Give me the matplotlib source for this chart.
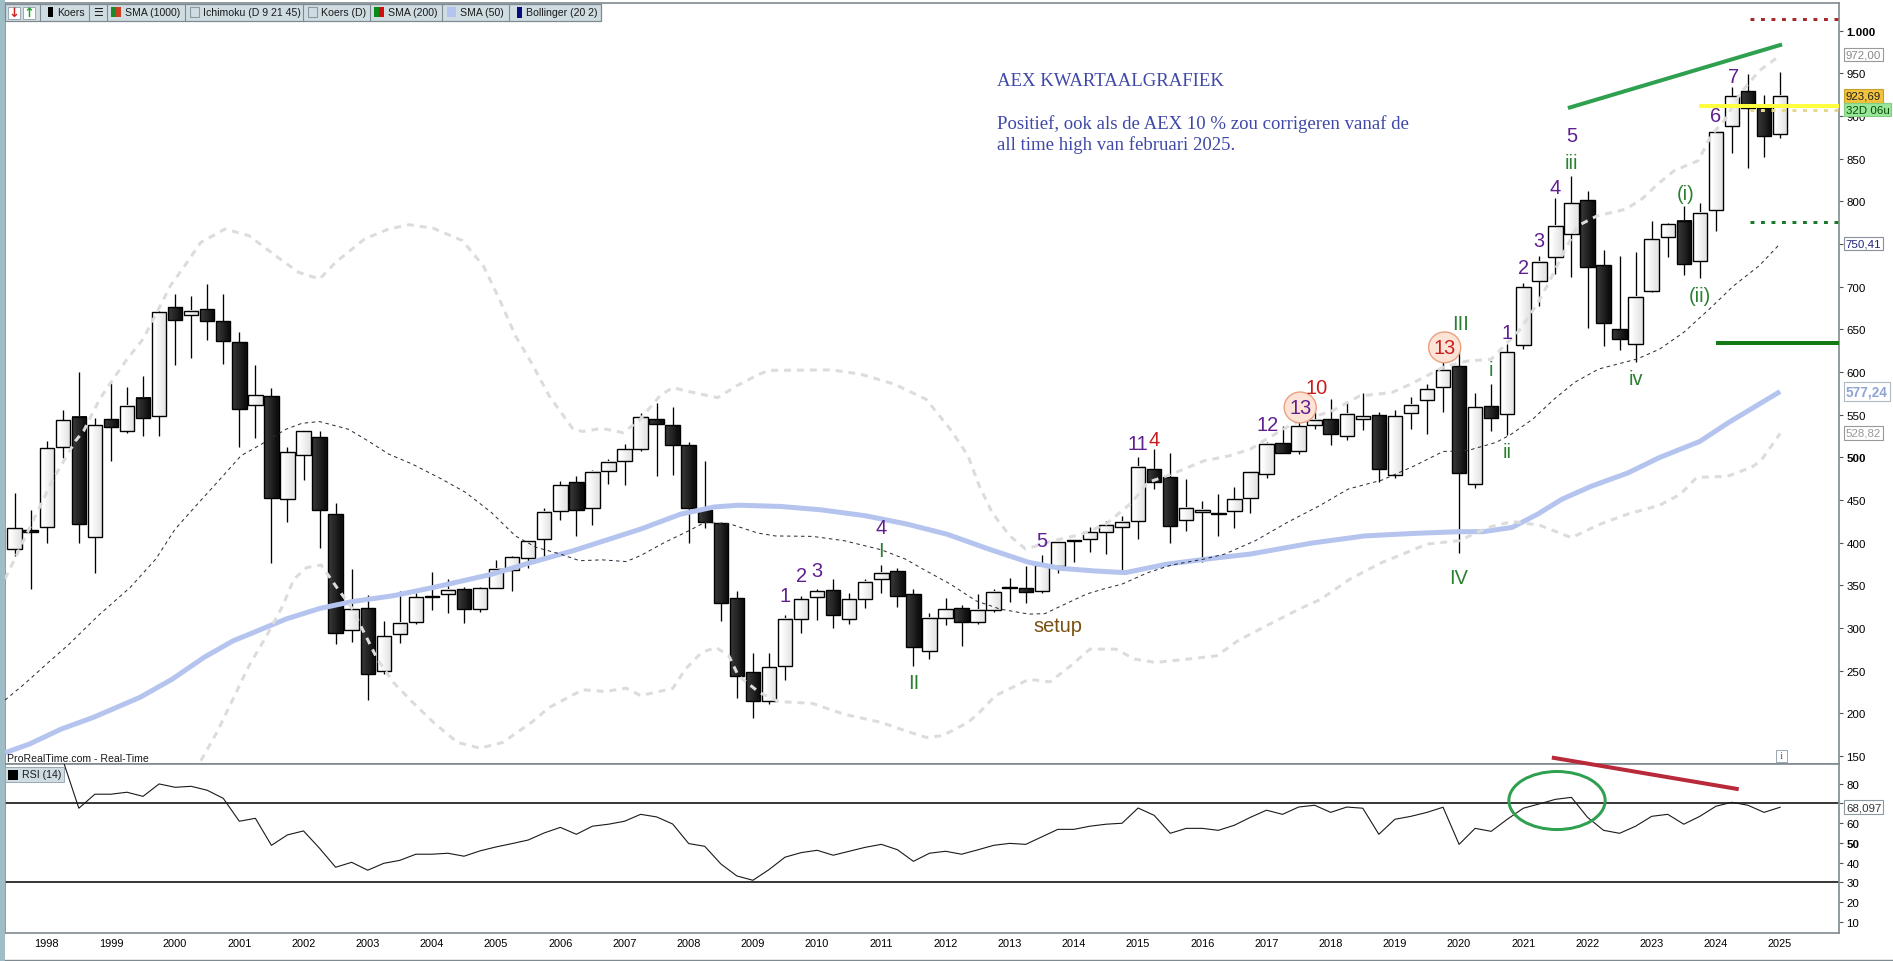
import numpy as np
import matplotlib
matplotlib.use("Agg")
import matplotlib.pyplot as plt
from matplotlib.patches import Ellipse, Rectangle

plt.rcParams['font.family'] = ['Liberation Sans', 'DejaVu Sans']

W, H = 1893, 962

# quarterly candles, first one is 1997 Q3
opens = [393, 414.5, 419, 511.8, 547.3, 406.3, 545, 530.5, 570, 549, 676, 666.6, 674, 660, 635, 562, 571.5, 451.2, 502.4, 523.9,
         433.6, 297.3, 323.5, 250, 292.6, 307.5, 337.6, 339.5, 345.7, 322.7, 346.5, 368.4, 381.7, 403.9, 436.8, 470.7, 440.3, 483.6, 496.1, 509.4,
         545, 537.9, 514.5, 438.3, 423.1, 335.2, 248.5, 214.9, 255.1, 311, 336, 344.6, 311, 333.6, 357, 366.4, 339.5, 272.7, 311.4, 323.1,
         306.7, 320.7, 347.8, 346.5, 343.8, 373.1, 402.9, 403.9, 412.1, 418, 425, 486.4, 477, 426.2, 435.6, 434.4, 436.8, 452, 480.1, 516.8,
         507.9, 537.5, 545, 524.6, 544.6, 549.7, 478.9, 551.6, 567.6, 582, 607, 468.4, 559.8, 550.4, 631.4, 706.3, 734.4, 761.4, 801.6, 725.4,
         650.4, 632.5, 695.4, 758, 777, 729.7, 789.5, 888, 929.3, 909.4, 878.5]
highs = [458, 438, 519, 555.5, 600, 546, 587, 583, 595, 671, 691.5, 689, 703, 691.5, 646.5, 608, 581, 511.8, 531, 530.5,
         446.5, 369.2, 339, 307.9, 343, 341, 365.7, 357, 347.7, 347.7, 379.3, 384, 402.4, 440.7, 472.7, 477.8, 485.2, 497.7, 515.7, 552,
         563.7, 558.6, 518.4, 495.7, 424, 343.4, 270.7, 270.7, 315.3, 337.5, 345.7, 357.5, 341, 357.5, 373.9, 370.4, 345.4, 317.6, 335.6, 327,
         339.9, 345.4, 358.6, 372.7, 385.6, 400.4, 403.5, 418.4, 425.4, 430.9, 500, 509.8, 504.7, 474.7, 448.5, 456.7, 464.9, 483, 517.6, 536.4,
         545, 552.8, 568, 565.3, 576, 552.8, 555.5, 571, 586, 611.5, 623, 576, 586, 632.9, 703.9, 736, 804, 829.8, 812.2, 743,
         736, 740.8, 777, 775, 794.6, 798, 881.5, 934.5, 948.8, 924.6, 951.6]
lows = [384, 346, 400, 499, 400, 365, 496, 529, 525.4, 525.4, 608.7, 617, 638, 609.8, 511.8, 523, 376.6, 424.7, 473.9, 394.2,
        281.7, 284, 216, 246, 282.8, 305, 321.5, 318, 306.3, 319.2, 346.5, 343.8, 371, 382.9, 427, 408.2, 420.7, 469.2, 468, 507.8,
        478.6, 479.3, 399.7, 417.6, 308.6, 218, 194.2, 211.4, 239.5, 294.6, 309.8, 300.4, 305, 323.5, 341, 325, 255.1, 264.1, 304, 279.3,
        305, 318.4, 330.9, 329.7, 341.4, 364.9, 377.8, 389.5, 387.1, 367.2, 404.3, 463.3, 400, 413.7, 377, 408.2, 417.6, 434.8, 475.4, 505.5,
        504, 533.2, 514.9, 520.8, 532.5, 470.7, 475.4, 533.2, 527.8, 552.8, 388.3, 463.7, 531.3, 526.6, 627, 677, 715, 711, 652, 630.8,
        626, 611.5, 693.4, 734.4, 714, 710.6, 765.7, 857, 839.6, 852.4, 874.2]
closes = [417, 413, 510.6, 543.4, 421.9, 537.5, 536, 560, 546.5, 670, 661.4, 671.3, 660, 636.8, 557, 572.7, 452.8, 505.9, 530.5, 438.7,
          294.6, 321.9, 246.5, 290.3, 305.5, 336, 336.8, 344.2, 322.7, 346.9, 368.8, 382.9, 401.6, 435.6, 467.2, 438.7, 482.5, 494.2, 509.4, 546.9,
          539.5, 514.9, 441, 424.7, 329.7, 244.2, 214.9, 253.9, 310.2, 333.6, 343, 315.7, 333.6, 353.6, 364.1, 338, 278.2, 311.4, 321.9, 306.7,
          321.5, 341.8, 346.8, 342.6, 373.5, 400.4, 401.9, 412.1, 420.4, 423.9, 488.3, 471.5, 420, 440.3, 438.7, 433.6, 450.8, 482.5, 515.3, 505.5,
          536.4, 543.4, 527.8, 550.4, 548, 486.8, 548, 561, 580, 603, 482, 558.6, 546.5, 623, 699.3, 728.6, 770.8, 797.7, 723.5, 657.8,
          639, 687.6, 755.6, 773, 726.6, 786, 881, 923, 909.4, 877, 923.7]

bb_upper_x = [-0.6, 0.1, 2.4, 3.8, 4.3, 5.3, 6, 7, 8, 8.65, 9.7, 10.6, 11.6, 13.1, 14.6, 16.4, 17.7, 19, 20, 21.8, 23.3, 24.6, 26.1, 27.9, 29.2, 30.2, 31.2, 32.2, 33.3, 34.8, 35.4, 36.6, 37.9, 38.9,
              40.2, 41, 41.8, 43.8, 45, 46.4, 47, 50.9, 52.7, 54.8, 56.8, 58.3, 59.4, 60.1, 60.9, 62, 63, 64.7, 66.5, 68, 69.6, 70.6, 72.1, 74.1, 75.7, 77, 78, 79.6, 82.1, 83.8, 85.8, 87, 89, 90.5, 92, 93.8, 94.8, 95.6, 96.4, 97.4, 98.6, 100.4, 101.4, 102.4, 103.4, 104.9, 105.7, 106.6, 107.5, 108.7, 110]
bb_upper = [357.5, 384.8, 474.7, 519.6, 531, 568.4, 588, 615, 638.7, 662, 701, 724.6, 752, 767.6, 759.8, 734.4, 716.8, 709, 728.6, 755.9, 767.6, 772.7, 768.4, 754, 724.6, 685.6, 642.6, 611, 572.3, 533, 530.5, 534, 529, 543,
            572, 582, 578, 570, 584, 597.6, 602, 602.6, 597.6, 586, 568, 533, 502, 466.8, 435.6, 408, 392.6, 402.4, 410, 421.9, 447, 470.7, 480.5, 496, 502, 509.8, 521.5, 539, 554.7, 572, 576, 586, 605.6, 613, 615, 650, 678, 705, 736, 771.5, 783, 791, 803, 820.6, 836, 847.8, 877, 896.6, 926, 953, 971]
bb_lower_x = [11.6, 12.6, 13.6, 14.6, 15.7, 16.7, 17.4, 18.2, 19.1, 20, 21, 22.6, 23.6, 24.8, 26.1, 27.6, 29, 30.4, 32.2, 33.3, 35.4, 36.8, 38.1, 39,
              41, 41.8, 42.8, 43.7, 44.5, 45.1, 46.4, 47.6, 49.7, 51.7, 54, 55.5, 56.8, 57.8, 59.4, 60.1, 61.1, 63.2, 64.5, 65.8, 67, 68.6, 69.8, 71.1, 73.1, 74.9, 76.2, 77.2, 78.4, 80, 81.4, 83.2, 85.2, 86.5, 88, 90, 91.8, 93.3, 95, 97, 98.8, 100.5, 102.5, 103.8, 104.8, 106.7, 108.2, 108.8, 110]
bb_lower = [144.6, 177.8, 216.8, 255.9, 291, 326, 357.5, 371, 374, 349.6, 324, 263.7, 236.4, 213, 189.5, 166, 159.4, 166, 189.5, 207, 227.8, 225.8, 229.7, 221,
            229.3, 252, 271.5, 277.4, 267.6, 244, 224.7, 214, 211.8, 199, 189.5, 179.7, 171.9, 173.9, 189.5, 201, 220.8, 240, 237, 255.9, 275.4, 275.4, 263.7, 259.8, 263.7, 267.6, 285, 295, 306.7, 322, 334, 357.5, 377, 386.8, 398.5, 402.4, 418, 425, 420.7, 406, 421.9, 433.6, 444, 457, 476.6, 477.8, 488.3, 496, 528]
bb_mid_x = [-0.6, 0.6, 2.1, 3.4, 5.2, 7.2, 8.8, 10, 11.3, 12.9, 14.1, 15.4, 16.9, 17.9, 19, 20.8, 22, 23.3, 24.8, 26.6, 28.1, 29.7, 31.2, 32.5, 34, 35.2, 36.6, 38.1, 39,
            40.5, 42, 43, 44.6, 46.3, 47.4, 49.7, 51.7, 54, 55.5, 56.8, 58.3, 59.9, 61.4, 63.2, 64.2, 65.2, 66.8, 67.8, 69, 70.6, 72.1, 74.1, 75.4, 77.3, 79.3, 81.3, 83.1, 85.2, 87.2, 89, 90.5, 92.3, 93.2, 94.6, 95.9, 97.2, 98.7, 101.1, 102.5, 104, 105.6, 107.1, 108.7, 110]
bb_mid = [215.7, 234.4, 259.8, 281.3, 314.5, 347.7, 381, 416, 443.4, 476.6, 502, 515.7, 533, 540, 542, 533, 519.6, 504, 492, 474.7, 459, 435.6, 408, 394.6, 386.8, 379, 380, 378, 385,
          400.4, 414, 423.9, 421.9, 411.4, 408, 407.5, 402.4, 391.8, 380.9, 367, 351.6, 332, 322.3, 316.4, 317, 326, 340, 345.7, 351.6, 365, 374, 380.9, 386.8, 402.4, 423.9, 443.4, 463, 473.5, 490, 507, 507.9, 517.6, 526.6, 545, 568, 588, 603.6, 615.4, 627, 646.6, 674, 701, 724.7, 750.4]
sma50_x = [-0.6, 0.9, 2.9, 4.9, 7.8, 9.8, 11.8, 13.6, 14.9, 16.9, 19, 21, 23.6, 26.1, 29.7, 32.2, 34.8, 39,
           41.5, 43.6, 45.1, 47.7, 50.2, 53, 55.6, 58.1, 60.7, 63.2, 65.2, 67.3, 69.2, 71.8, 74.6, 77, 80.8, 84.1, 87.2, 90, 91.5, 93.3, 94.9, 96.4, 98.2, 100.5, 102.5, 105, 106.8, 110]
sma50 = [154, 164, 181.7, 195.4, 218.8, 240, 265.7, 285, 295, 310.6, 323, 331, 338, 347.7, 363, 377, 390.7, 416,
         433.6, 442, 444, 442.6, 438.7, 431.7, 421.9, 410, 392.6, 377, 370, 367, 365, 375, 381.7, 386.8, 399.6, 408, 411, 413, 413, 418, 433.6, 451, 466, 481.7, 500, 518.8, 541, 577.2]

rsi_start = 3
rsi = [92, 67.5, 74.6, 74.6, 75.6, 73.5, 79.8, 78.1, 78.6, 76.6, 72.5, 60.9, 62.4, 48.7, 54, 56, 47.2, 37.6, 40.1, 36.1,
       39.6, 41.1, 44.2, 44.2, 44.7, 43.2, 45.9, 47.9, 49.6, 51.4, 55, 57.8, 54.3, 58.4, 59.4, 60.9, 64.4, 63.1, 59.5, 49.6,
       48.2, 39.3, 33.2, 31, 36.4, 42.7, 45, 46.2, 43.7, 45.7, 47.7, 49.2, 46.5, 40.6, 44.7, 45.7, 44.2, 46.4, 48.7, 49.7,
       49.2, 53, 56.8, 56.8, 58.4, 59.4, 59.9, 67.6, 63.9, 54.8, 57.3, 57.3, 56.3, 58.9, 62.9, 66.5, 64.4, 68.1, 69, 65.4,
       68.1, 67.5, 54.3, 61.9, 63.4, 65.4, 68, 49.2, 57.3, 55.8, 61.9, 67.5, 69.7, 72, 73, 62.9, 56.3, 54.8, 58.4, 63.4,
       64.4, 59.4, 63.4, 68.5, 70.5, 69, 65.4, 68]

years = list(range(1998, 2026))
price_ticks = [150, 200, 250, 300, 350, 400, 450, 500, 550, 600, 650, 700, 750, 800, 850, 900, 950, 1000]
rsi_ticks = [10, 20, 30, 40, 50, 60, 70, 80]

# wave counts on the chart: (quarter, price, text, colour)
PURPLE, GREEN, RED = '#5f1f8f', '#2a8030', '#c81e1e'
wave_labels = [(48, 338.7, '1', PURPLE), (49, 361.4, '2', PURPLE), (50, 367, '3', PURPLE), (54, 418, '4', PURPLE), (54, 390.7, 'I', GREEN),
               (56, 236.4, 'II', GREEN), (64, 402.4, '5', PURPLE), (65, 303.6, 'setup', '#7a5010'), (70, 516.4, '11', PURPLE), (71, 521.5, '4', RED),
               (78.1, 538.3, '12', PURPLE), (81.1, 582, '10', RED), (90.06, 656.4, 'III', GREEN), (93, 646.5, '1', PURPLE), (92, 603.6, 'i', GREEN),
               (93, 507, 'ii', GREEN), (90, 359.4, 'IV', GREEN), (94, 722, '2', PURPLE), (95, 754, '3', PURPLE), (96, 816.5, '4', PURPLE),
               (97, 877, '5', PURPLE), (97, 845.7, 'iii', GREEN), (104.1, 809.8, '(i)', GREEN), (105, 689.6, '(ii)', GREEN), (101, 593, 'iv', GREEN),
               (106, 901, '6', PURPLE), (107.1, 946.5, '7', PURPLE)]
circled = [(80.1, 558.6, PURPLE), (89.1, 629, RED)]


def px(n):
    return n * 0.72


def chart_axes(top, bottom):
    left, right = 5, 1839
    return fig.add_axes([left / W, 1 - bottom / H, (right - left) / W, (bottom - top) / H])


fig = plt.figure(figsize=(W / 100, H / 100), dpi=100, facecolor='white')
ax = chart_axes(3.7, 765)
ax2 = chart_axes(765, 934)

x = np.arange(len(opens))
for i in x:
    up = closes[i] >= opens[i]
    ax.vlines(i, lows[i], highs[i], color='black', lw=0.95, zorder=2)
    low, high = min(opens[i], closes[i]), max(opens[i], closes[i])
    shade = [[1.0, 0.95, 0.9]] if up else [[0.2, 0.14, 0.06]]
    ax.imshow(shade, extent=[i - 0.45, i + 0.45, low, high], aspect='auto', cmap='gray', vmin=0, vmax=1, zorder=3, interpolation='bilinear')
    ax.add_patch(Rectangle((i - 0.45, low), 0.9, high - low, fill=False, ec='black', lw=1.0, zorder=3))

ax.plot(sma50_x, sma50, color='#b4c4ee', lw=px(5), zorder=4, solid_capstyle='butt')
ax.plot(bb_upper_x, bb_upper, color='#dcdcdc', lw=px(3), ls=(0, (2.3, 2)), zorder=5)
ax.plot(bb_lower_x, bb_lower, color='#dcdcdc', lw=px(3), ls=(0, (2.3, 2)), zorder=5)
ax.plot(bb_mid_x, bb_mid, color='#2a2a3a', lw=0.72, ls=(0, (3.5, 3.5)), zorder=5)

# hand drawn lines
ax.plot([96.9, 110], [910, 983.2], color='#2fa050', lw=px(4), zorder=6)
ax.plot([108.1, 113.7], [1013.3, 1013.3], color='#a52a2a', lw=px(3), ls=(0, (1.3, 2.2)), zorder=6)
ax.plot([108.1, 113.7], [775.4, 775.4], color='#1a7a2a', lw=px(3), ls=(0, (1.3, 2.2)), zorder=6)
ax.plot([108.1, 113.7], [907, 907], color='#e4d890', lw=px(3), ls=(0, (1.3, 2.2)), zorder=6)
ax.plot([105.06, 113.7], [911.4, 911.4], color='#ffff40', lw=px(4), zorder=6)
ax.plot([106.1, 113.7], [633.7, 633.7], color='#157a15', lw=px(4), zorder=6)

for qx, qy, txt, col in wave_labels:
    ax.text(qx, qy, txt, color=col, fontsize=px(20), ha='center', va='center', zorder=8)
for qx, qy, col in circled:
    ax.add_patch(Ellipse((qx, qy), 2.0, 36, fc='#fde3d6', ec='#e8a080', lw=1, zorder=7))
    ax.text(qx, qy, '13', color=col, fontsize=px(20), ha='center', va='center', zorder=8)

note = dict(family=['Liberation Serif', 'DejaVu Serif'], color='#3f48a8', fontsize=px(18.8), va='center', zorder=8)
fig.text(997 / W, 1 - 82 / H, 'AEX KWARTAALGRAFIEK', **note)
fig.text(997 / W, 1 - 124 / H, 'Positief, ook als de AEX 10 % zou corrigeren vanaf de', **note)
fig.text(997 / W, 1 - 145 / H, 'all time high van februari 2025.', **note)

ax.set_xlim(-0.6, 113.67)
ax.set_ylim(140.8, 1032.8)
ax.yaxis.tick_right()
ax.set_yticks(price_ticks)
# 750 sits completely under its value box in the reference
ax.set_yticklabels(['' if t == 750 else f'{t:,}'.replace(',', '.') for t in price_ticks])
ax.set_xticks([])
ax.tick_params(axis='y', length=3, width=0.8, color='#555555', labelsize=px(11.5), pad=2.5)
for lab, t in zip(ax.get_yticklabels(), price_ticks):
    if t in (1000, 500):
        lab.set_fontweight('bold')

# rsi panel
rsi_x = np.arange(rsi_start, rsi_start + len(rsi))
ax2.plot(rsi_x, rsi, color='#1a1a1a', lw=0.8, zorder=3)
ax2.axhline(70, color='black', lw=1.1, zorder=2)
ax2.axhline(30, color='black', lw=1.1, zorder=2)
ax2.add_patch(Ellipse((96.1, 71.4), 6.0, 29.4, fill=False, ec='#2fa050', lw=px(3), zorder=5))
ax2.plot([95.9, 107.3], [93, 77.3], color='#b8293a', lw=px(4), zorder=6, clip_on=False)
ax2.set_xlim(-0.6, 113.67)
ax2.set_ylim(4.3, 89.9)
ax2.yaxis.tick_right()
ax2.set_yticks(rsi_ticks)
ax2.set_xticks([2 + 4 * k for k in range(len(years))])
ax2.set_xticklabels([str(y) for y in years])
ax2.tick_params(axis='y', length=3, width=0.8, color='#555555', labelsize=px(11.5), pad=2.5)
ax2.tick_params(axis='x', length=0, labelsize=px(11), pad=3.5)
ax2.get_yticklabels()[rsi_ticks.index(50)].set_fontweight('bold')

for a in (ax, ax2):
    for s in a.spines.values():
        s.set_color('#7f8a90')
        s.set_linewidth(1.2)

# value boxes on the right axis
boxes = [(972.0, '972,00', '#888888', 'white', '#999999', ax), (923.69, '923,69', '#222222', '#f2c23c', '#c8a030', ax),
         (907.5, '32D 06u', '#0a4a0a', '#98e698', '#80d080', ax), (750.41, '750,41', '#22227a', 'white', '#8890a0', ax),
         (577.24, '577,24', '#8fa4d4', 'white', '#b0b8c0', ax), (528.82, '528,82', '#999999', 'white', '#999999', ax),
         (68.097, '68,097', '#333333', 'white', '#8a9aa0', ax2)]
for val, txt, tc, fc, ec, a in boxes:
    bold = txt == '577,24'
    a.annotate(txt, xy=(1, val), xycoords=('axes fraction', 'data'), xytext=(5, 0), textcoords='offset points', ha='left', va='center',
               fontsize=px(13.5) if bold else px(11.5), fontweight='bold' if bold else 'normal', color=tc, zorder=10, annotation_clip=False,
               bbox=dict(boxstyle='square,pad=0.15', fc=fc, ec=ec, lw=0.8))

# window chrome, in figure pixels
ch = fig.add_axes([0, 0, 1, 1], facecolor='none')
ch.set_xlim(0, W)
ch.set_ylim(H, 0)
ch.axis('off')
BAR = '#cfdde3'
EDGE = '#7f8a90'
ch.add_patch(Rectangle((0, 0), 4.5, H, fc='#9fbdc6', ec='none'))
ch.plot([5, W], [961, 961], color=EDGE, lw=1.0)
ch.add_patch(Rectangle((5, 4.5), 596, 17, fc=BAR, ec=EDGE, lw=0.9))
for sep in [39.6, 88.6, 107.3, 185.3, 303.3, 370.2, 442, 508.6]:
    ch.plot([sep, sep], [4.5, 21.5], color=EDGE, lw=0.8)
bar_font = px(10.5)
for tx, txt in [(57, 'Koers'), (125, 'SMA (1000)'), (203, 'Ichimoku (D 9 21 45)'), (321, 'Koers (D)'), (388, 'SMA (200)'), (460, 'SMA (50)'), (526, 'Bollinger (20 2)')]:
    ch.text(tx, 13, txt, fontsize=bar_font, va='center', ha='left', color='#1a1a1a')
ch.add_patch(Rectangle((48, 8), 5, 10, fc='black', ec='none'))
ch.add_patch(Rectangle((111, 8), 5, 10, fc='#1a8a2a', ec='none'))
ch.add_patch(Rectangle((116, 8), 5, 10, fc='#d04020', ec='none'))
ch.add_patch(Rectangle((189.5, 8), 9, 10, fc=BAR, ec='#8a9aa0', lw=0.8))
ch.add_patch(Rectangle((307.5, 8), 9, 10, fc=BAR, ec='#8a9aa0', lw=0.8))
ch.add_patch(Rectangle((374, 8), 5, 10, fc='#0a8a1a', ec='none'))
ch.add_patch(Rectangle((379, 8), 5, 10, fc='#d01010', ec='none'))
ch.add_patch(Rectangle((447, 8), 9, 10, fc='#b4c4ee', ec='none'))
ch.add_patch(Rectangle((517, 8), 5, 11, fc='#0a0a80', ec='none'))
ch.add_patch(Rectangle((8, 7.5), 12, 12, fc='white', ec='#9aa8b0', lw=0.7))
ch.add_patch(Rectangle((23, 7.5), 12, 12, fc='white', ec='#9aa8b0', lw=0.7))
ch.text(14, 13.5, '\u2193', color='#d02020', fontsize=px(13), fontweight='bold', ha='center', va='center', family='DejaVu Sans')
ch.text(29, 13.5, '\u2191', color='#20a030', fontsize=px(13), fontweight='bold', ha='center', va='center', family='DejaVu Sans')
ch.text(98, 13, '\u2630', color='#222222', fontsize=px(11), ha='center', va='center', family='DejaVu Sans')
ch.text(7, 759, 'ProRealTime.com - Real-Time', fontsize=px(10.5), va='center', color='#1a1a1a')
ch.add_patch(Rectangle((5, 768), 59, 15, fc=BAR, ec='#9aa8b0', lw=0.7))
ch.add_patch(Rectangle((8, 771), 10, 10, fc='black', ec='none'))
ch.text(22, 775.5, 'RSI (14)', fontsize=px(10.5), va='center', color='#1a1a1a')
ch.add_patch(Rectangle((1776, 750.5), 11, 12, fc='white', ec='#9aa8b0', lw=0.7))
ch.text(1781.5, 756.5, 'i', fontsize=px(11), ha='center', va='center', color='#666666', family='Liberation Serif')

fig.savefig('out.png', dpi=100)
